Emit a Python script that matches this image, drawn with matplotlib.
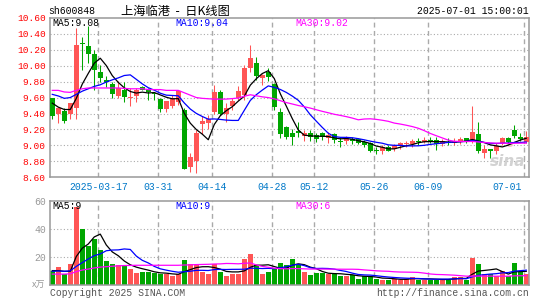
import numpy as np
import pandas as pd
import matplotlib
matplotlib.use('Agg')
import matplotlib.pyplot as plt

# ---- data (daily K line, sh600848) ----
holidays = ['2025-04-04', '2025-05-01', '2025-05-02', '2025-05-05', '2025-06-02']
days = pd.bdate_range('2025-03-05', '2025-07-01')
days = days[~days.isin(pd.to_datetime(holidays))]

opens = [9.59, 9.40, 9.43, 9.39, 9.47, 10.28, 10.245, 10.14, 9.92, 9.82,
         9.77, 9.62, 9.70, 9.60, 9.62, 9.73, 9.70, 9.645, 9.58, 9.455,
         9.50, 9.55, 9.44, 8.73, 8.80, 9.27, 9.28, 9.425, 9.675, 9.40,
         9.50, 9.60, 9.63, 9.975, 10.03, 9.85, 9.915, 9.765, 9.425, 9.23,
         9.16, 9.18, 9.12, 9.16, 9.13, 9.15, 9.09, 9.137, 9.05, 9.05,
         9.08, 9.075, 9.046, 9.025, 8.94, 8.933, 8.98, 8.95, 8.99, 9.02,
         9.017, 9.05, 9.046, 9.067, 9.067, 9.017, 9.046, 9.025, 9.037, 9.087,
         9.06, 9.137, 8.90, 8.955, 8.933, 9.025, 9.096, 9.19, 9.10, 9.046]
highs = [9.60, 9.48, 9.47, 9.53, 10.47, 10.36, 10.50, 10.195, 10.01, 9.87,
         9.80, 9.81, 9.80, 9.72, 9.72, 9.74, 9.72, 9.67, 9.60, 9.56,
         9.63, 9.69, 9.475, 8.91, 9.196, 9.37, 9.38, 9.76, 9.70, 9.53,
         9.60, 9.74, 10.01, 10.26, 10.11, 9.90, 9.967, 9.78, 9.47, 9.24,
         9.20, 9.29, 9.19, 9.19, 9.16, 9.17, 9.17, 9.16, 9.10, 9.12,
         9.11, 9.09, 9.07, 9.046, 8.975, 9.00, 9.00, 9.02, 9.046, 9.06,
         9.08, 9.09, 9.10, 9.10, 9.10, 9.08, 9.09, 9.09, 9.10, 9.095,
         9.49, 9.29, 9.004, 8.96, 9.03, 9.10, 9.11, 9.26, 9.16, 9.18]
lows = [9.33, 9.28, 9.28, 9.33, 9.33, 9.95, 10.03, 9.70, 9.80, 9.73,
        9.60, 9.60, 9.55, 9.50, 9.55, 9.69, 9.57, 9.57, 9.42, 9.415,
        9.47, 9.51, 8.70, 8.667, 8.66, 9.14, 9.20, 9.40, 9.38, 9.29,
        9.45, 9.57, 9.57, 9.925, 9.82, 9.76, 9.81, 9.445, 9.09, 9.08,
        9.00, 9.11, 9.06, 9.05, 9.04, 9.07, 9.03, 9.03, 8.98, 9.02,
        9.02, 9.02, 8.98, 8.92, 8.89, 8.89, 8.93, 8.93, 8.96, 8.975,
        8.983, 9.004, 9.033, 9.03, 8.94, 8.99, 9.00, 9.00, 9.02, 9.033,
        9.025, 8.91, 8.84, 8.84, 8.89, 9.01, 9.017, 9.087, 9.05, 9.025]
closes = [9.37, 9.475, 9.31, 9.53, 10.26, 10.27, 10.145, 9.95, 9.84, 9.80,
          9.64, 9.72, 9.61, 9.61, 9.70, 9.70, 9.665, 9.64, 9.46, 9.555,
          9.60, 9.68, 8.71, 8.85, 9.155, 9.31, 9.33, 9.667, 9.40, 9.47,
          9.56, 9.68, 9.975, 10.09, 9.875, 9.885, 9.86, 9.48, 9.14, 9.10,
          9.10, 9.15, 9.15, 9.10, 9.075, 9.10, 9.13, 9.067, 9.04, 9.095,
          9.055, 9.033, 9.004, 8.933, 8.933, 8.983, 8.93, 9.004, 9.033, 9.025,
          9.058, 9.046, 9.067, 9.046, 9.017, 9.058, 9.025, 9.054, 9.075, 9.054,
          9.163, 8.933, 8.95, 8.935, 8.99, 9.096, 9.046, 9.12, 9.08, 9.108]
volumes = [10.2, 13.3, 7.9, 15.2, 56.2, 40.0, 28.1, 33.3, 25.2, 17.4,
           15.2, 14.5, 14.5, 11.7, 9.0, 9.5, 9.5, 8.6, 7.9, 7.9,
           6.9, 7.9, 18.1, 15.2, 15.2, 9.8, 8.1, 15.2, 9.5, 6.9,
           8.1, 8.1, 18.8, 22.4, 14.5, 8.1, 9.5, 12.5, 16.2, 14.5,
           19.0, 14.5, 9.5, 7.4, 9.0, 9.0, 8.3, 8.1, 6.9, 6.9,
           7.4, 4.8, 6.4, 6.0, 4.8, 3.8, 4.0, 4.8, 4.0, 4.8,
           6.0, 4.0, 4.0, 4.0, 4.0, 4.8, 4.0, 6.0, 6.0, 3.8,
           19.8, 15.2, 8.3, 8.3, 6.9, 10.2, 6.4, 16.2, 9.3, 7.9]

# moving-average values at the start of the window (history before it is not shown)
price_ma5_head = [9.53, 9.48, 9.45, 9.45]
price_ma10_head = [9.64, 9.62, 9.59, 9.60, 9.64, 9.68, 9.71, 9.74, 9.76]
price_ma30_head = [9.69, 9.69, 9.67, 9.665, 9.69, 9.71, 9.72, 9.72, 9.72, 9.72,
                   9.72, 9.72, 9.715, 9.71, 9.71, 9.71, 9.70, 9.70, 9.70, 9.69,
                   9.69, 9.69, 9.66, 9.63, 9.60, 9.59, 9.585, 9.58, 9.58]
vol_ma5_head = [10.5, 10.5, 10.0, 10.0]
vol_ma10_head = [10.0, 10.2, 10.0, 10.3, 13.5, 16.2, 18.8, 21.2, 22.4]
vol_ma30_head = [8.0, 8.0, 8.0, 8.2, 9.8, 10.9, 11.6, 12.4, 13.0, 13.3,
                 13.6, 13.9, 14.1, 14.2, 14.3, 14.3, 14.3, 14.3, 14.3, 14.3,
                 14.3, 14.3, 14.5, 14.6, 14.8, 14.9, 15.0, 15.2, 15.3]

tick_dates = ['2025-03-17', '2025-03-31', '2025-04-14', '2025-04-28',
              '2025-05-12', '2025-05-26', '2025-06-09', '2025-07-01']
price_legend = ['MA5:9.08', 'MA10:9.04', 'MA30:9.02']
vol_legend = ['MA5:9', 'MA10:9', 'MA30:6']

# ---- style ----
W, H = 545, 300
RED = '#ff5555'
GREEN = '#00a600'
MA_COLOURS = ['black', '#0000ff', '#ff00ff']
GRID = '#aaaaaa'
MONO = 'Liberation Mono'
CJK = ['Noto Sans CJK SC', 'DejaVu Sans']


def ma(values, n, head):
    s = pd.Series(values).rolling(n).mean().to_numpy()
    s[:n - 1] = head
    return s


def px_axes(fig, left, top, right, bottom):
    return fig.add_axes([left / W, 1 - bottom / H, (right - left) / W, (bottom - top) / H])


def ftext(fig, x, y, s, **kw):
    fig.text(x / W, 1 - y / H, s, va='center', **kw)


def style_axes(ax):
    for sp in ax.spines.values():
        sp.set_color('#999999')
        sp.set_linewidth(1.1)
    ax.tick_params(length=0)
    ax.set_xticks([])
    ax.set_xlim(-0.38, 79.5)


opens, highs, lows, closes, volumes = map(np.array, (opens, highs, lows, closes, volumes))
x = np.arange(len(closes))
colours = np.where(closes >= opens, RED, GREEN)
tick_idx = [days.get_loc(pd.Timestamp(d)) for d in tick_dates]

fig = plt.figure(figsize=(W / 100, H / 100), dpi=100)
fig.patch.set_facecolor('white')

# ---- price panel ----
ax = px_axes(fig, 50, 17.8, 529.3, 177.3)
style_axes(ax)
ax.set_ylim(8.60, 10.60)
yt = np.round(np.arange(8.60, 10.61, 0.2), 2)
ax.set_yticks(yt)
ax.set_yticklabels(['%.2f' % v for v in yt], color='#ff0000', fontsize=6.8, family=MONO)
ax.tick_params(axis='y', pad=3)
for v in yt[1:-1]:
    ax.axhline(v, color=GRID, linestyle=(0, (1, 2)), linewidth=0.8, zorder=1)
for i in tick_idx:
    ax.axvline(i - 0.33, color=GRID, linestyle=(0, (3.5, 2.5)), linewidth=1.0, zorder=1)

# sina watermark, bottom right of the price panel
ax.text(0.955, 0.1, 'sina', transform=ax.transAxes, ha='center', va='center', fontsize=11,
        fontweight='bold', style='italic', color='#d2d2d2', zorder=1)
ax.text(0.958, 0.21, 'o', transform=ax.transAxes, ha='center', va='center', fontsize=8,
        fontweight='bold', color='#f3c4c4', zorder=1)

ax.vlines(x, lows, highs, colors=colours, linewidth=0.75, zorder=2)
ax.bar(x, np.maximum(np.abs(closes - opens), 0.012), bottom=np.minimum(opens, closes),
       width=0.8, color=colours, linewidth=0, zorder=3)
for n, head, c in zip([5, 10, 30], [price_ma5_head, price_ma10_head, price_ma30_head], MA_COLOURS):
    ax.plot(x, ma(closes, n, head), color=c, linewidth=0.9, zorder=4)

# ---- volume panel ----
vx = px_axes(fig, 50, 201.3, 529.3, 285.3)
style_axes(vx)
vx.set_ylim(0, 60)
vx.set_yticks([20, 40, 60])
vx.set_yticklabels(['20', '40', '60'], color='#999999', fontsize=7, family=MONO)
vx.tick_params(axis='y', pad=3)
for v in [20, 40]:
    vx.axhline(v, color=GRID, linestyle=(0, (1, 2)), linewidth=0.8, zorder=1)
for i in tick_idx:
    vx.axvline(i - 0.33, color=GRID, linestyle=(0, (3.5, 2.5)), linewidth=1.0, zorder=1)
vx.bar(x, volumes, width=0.82, color=colours, linewidth=0, zorder=2)
for n, head, c in zip([5, 10, 30], [vol_ma5_head, vol_ma10_head, vol_ma30_head], MA_COLOURS):
    vx.plot(x, ma(volumes, n, head), color=c, linewidth=0.9, zorder=3)

# ---- texts ----
ftext(fig, 48, 11.5, 'sh600848', fontsize=7, family=MONO, color='black')
ftext(fig, 121, 11, '上海临港  -  日K线图', fontsize=8.8, family=CJK, color='black')
ftext(fig, 529, 11.5, '2025-07-01 15:00:01', fontsize=7, family=MONO, color='black', ha='right')

for s, c, px in zip(price_legend, MA_COLOURS, [52, 175, 295]):
    ftext(fig, px, 23.5, s, fontsize=7, family=MONO, color=c)
for s, c, px in zip(vol_legend, MA_COLOURS, [52, 175, 295]):
    ftext(fig, px, 206, s, fontsize=7, family=MONO, color=c)

for k, (i, d) in enumerate(zip(tick_idx, tick_dates)):
    label = d if k == 0 else d[5:]
    xp = 52.3 + 6 * i - 2
    if k == len(tick_idx) - 1:
        ftext(fig, 522, 186.5, label, fontsize=7, family=MONO, color='#0078c8', ha='right')
    else:
        ftext(fig, xp, 186.5, label, fontsize=7, family=MONO, color='#0078c8', ha='center')

ftext(fig, 45, 285, 'x万', fontsize=6.5, family=CJK, color='#999999', ha='right')
ftext(fig, 50, 293, 'Copyright 2025 SINA.COM', fontsize=7, family=MONO, color='#555555')
ftext(fig, 529, 293, 'http://finance.sina.com.cn', fontsize=7, family=MONO, color='#555555', ha='right')

fig.savefig('out.png', dpi=100, facecolor='white')
